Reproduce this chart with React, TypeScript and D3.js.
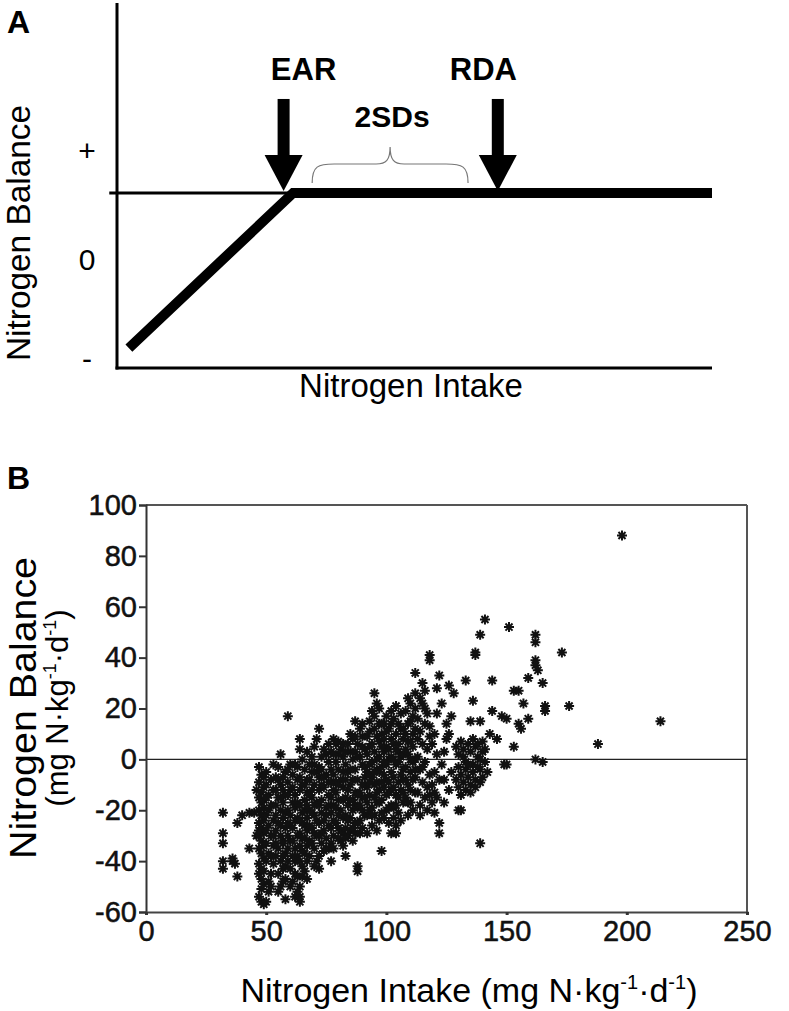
import React, { useEffect, useRef } from 'react';
import * as d3 from 'd3';

// ---- panel A: conceptual curve (arbitrary units) ----
const curveA: [number, number][] = [[2, -0.9], [29.6, 0.667], [100, 0.667]];
const thresholdA: [number, number][] = [[-1.3, 0.667], [29.6, 0.667]];
const balanceTicksA = [
    { label: '+', value: 1.1 },
    { label: '0', value: 0 },
    { label: '-', value: -1 }
];
const markersA = [
    { label: 'EAR', intake: 28 },
    { label: 'RDA', intake: 64 }
];
const spreadA = { label: '2SDs', from: 32.8, to: 59 };

// ---- panel B: nitrogen balance vs intake ----
const intakeTicks = [0, 50, 100, 150, 200, 250];
const balanceTicks = [100, 80, 60, 40, 20, 0, -20, -40, -60];

const points: [number, number][] = [
    // low intakes
    [32, -21], [32, -29], [32, -33], [32, -40], [32, -43], [36, -39], [37, -41], [36, -40], [38, -46], [38, -25],
    [40, -22], [43, -21], [43, -35], [46, -12], [45, -21], [46, -30],
    // ~48
    [47, -3], [48, -6], [47, -9], [49, -11], [48, -13], [47, -15], [48, -17], [49, -19], [47, -20], [48, -22],
    [49, -24], [47, -25], [48, -27], [49, -29], [47, -30], [48, -32], [49, -34], [47, -35], [48, -37], [49, -39],
    [47, -41], [48, -43], [47, -45], [48, -47], [49, -49], [48, -51], [47, -54], [48, -56], [49, -57], [48, -22],
    [47, -28], [49, -16],
    // 50-53
    [50, -10], [51, -14], [52, -18], [50, -22], [51, -26], [52, -30], [50, -33], [51, -37], [53, -41], [52, -45],
    [51, -48], [53, -2], [52, -8], [53, -24], [51, -20], [53, -34],
    [50, -5], [49, -7], [50, -15], [50, -28], [50, -40], [49, -44], [51, -52], [50, -56], [52, -38], [53, -12],
    [52, -50], [53, -30],
    // 54-58
    [56, 2], [55, -3], [54, -7], [56, -10], [57, -12], [55, -15], [54, -18], [56, -20], [57, -23], [55, -25],
    [54, -28], [56, -30], [57, -32], [55, -35], [54, -38], [56, -40], [57, -43], [55, -45], [58, -47], [56, -50],
    [58, -55], [57, -17], [58, -27], [58, -37], [54, -22], [55, -8], [59, 17], [58, -5], [57, -33],
    [54, -12], [57, -7], [58, -14], [58, -21], [56, -26], [54, -33], [57, -38], [58, -42], [55, -52], [57, -48],
    [56, -15],
    // 59-63
    [60, -2], [61, -6], [59, -9], [60, -12], [62, -14], [61, -17], [59, -20], [60, -22], [62, -24], [61, -27],
    [59, -30], [60, -32], [62, -35], [61, -38], [59, -40], [60, -43], [62, -45], [61, -48], [63, -46], [60, -26],
    [62, -19], [59, -35], [63, -8], [62, -2], [61, -11],
    [59, -4], [63, -3], [63, -17], [63, -23], [63, -30], [63, -38], [59, -14], [59, -25], [61, -32], [62, -40],
    [60, -50], [62, -54],
    // 64-67
    [64, 8], [64, 4], [65, 0], [66, -4], [64, -7], [65, -10], [67, -13], [66, -16], [64, -18], [65, -21],
    [67, -23], [66, -26], [64, -29], [65, -31], [67, -34], [66, -37], [64, -40], [65, -42], [66, -44], [64, -50],
    [64, -54], [64, -56], [63, -52], [65, -25], [66, -20], [67, -8], [65, -36],
    [67, 3], [66, -10], [67, -18], [67, -28], [67, -40], [64, -12], [64, -24], [64, -34], [66, -31], [65, -46],
    [67, -47],
    // 68-72
    [72, 12], [71, 8], [70, 5], [69, 1], [70, -2], [71, -5], [68, -8], [70, -10], [72, -12], [69, -15],
    [71, -17], [68, -20], [70, -22], [72, -25], [69, -27], [71, -30], [68, -32], [70, -35], [72, -38], [71, -40],
    [72, -43], [69, -12], [71, -24], [68, -26], [70, -18], [72, -3], [70, -29],
    [68, -2], [69, -5], [72, -7], [68, -14], [72, -18], [69, -21], [72, -30], [68, -38], [70, -42], [69, -33],
    // 73-77
    [74, 4], [75, 2], [76, -1], [73, -4], [75, -6], [77, -9], [74, -11], [76, -14], [73, -16], [75, -19],
    [77, -21], [74, -24], [76, -26], [73, -29], [75, -31], [77, -33], [74, -36], [77, -40], [76, -35], [73, -10],
    [75, -22], [77, -15], [74, -28], [76, 6],
    [73, 1], [77, 3], [77, -4], [74, -7], [76, -9], [73, -21], [77, -27], [75, -35], [73, -33], [76, -18],
    // 78-82
    [78, 8], [79, 6], [80, 7], [81, 4], [82, 1], [79, -1], [80, -4], [78, -6], [81, -8], [82, -11],
    [79, -13], [80, -16], [78, -18], [81, -20], [82, -23], [79, -25], [80, -27], [78, -30], [81, -32], [82, -34],
    [80, -22], [79, -9], [82, -16], [81, -28], [78, -12], [80, 2],
    [78, 2], [82, 6], [82, -5], [78, -24], [80, -10], [82, -29], [79, -19], [80, -31], [78, -35],
    // 83-87
    [83, -38], [84, 6], [85, 3], [86, 0], [83, -2], [84, -5], [86, -8], [85, -10], [87, -13], [83, -15],
    [84, -18], [86, -20], [85, -23], [87, -25], [83, -27], [84, -30], [86, -32], [87, 15], [85, 10], [86, 8],
    [84, -12], [87, -4], [83, -22], [85, -28], [86, -16], [87, 3],
    [83, 3], [87, 9], [85, -4], [87, -18], [83, -8], [84, -24], [87, -29], [85, -16], [86, -27], [83, -31],
    // 88-92
    [88, -44], [88, -42], [89, 12], [90, 9], [88, 6], [91, 4], [89, 1], [90, -2], [92, -5], [88, -8],
    [91, -10], [89, -13], [90, -15], [92, -17], [88, -19], [91, -22], [89, -24], [90, -27], [92, -29], [88, -14],
    [90, -20], [92, 2], [91, -7], [89, -18], [92, -11], [90, 5],
    [88, 1], [90, 14], [92, 9], [91, -3], [88, -25], [92, -22], [89, -29], [91, -15], [90, -10],
    // 93-97
    [93, 15], [95, 26], [96, 22], [94, 19], [95, 17], [97, 14], [93, 11], [96, 9], [94, 6], [95, 3],
    [97, 1], [93, -2], [96, -4], [94, -7], [95, -10], [97, -12], [93, -14], [96, -17], [94, -19], [95, -22],
    [97, -24], [93, -6], [96, -13], [94, -1], [95, 12], [97, 7], [93, -20], [96, -9], [94, -26], [96, -28],
    [93, 5], [97, 20], [95, -5], [97, -17], [93, -9], [96, 0], [95, -15], [97, -5], [94, -22],
    // 98-102
    [98, -36], [102, 19], [100, 17], [99, 14], [101, 12], [98, 10], [102, 8], [100, 5], [99, 3], [101, 0],
    [98, -3], [102, -5], [100, -8], [99, -11], [101, -13], [98, -16], [102, -18], [100, -20], [99, -23], [101, -25],
    [102, -29], [100, -2], [99, 8], [101, -9], [98, -21], [102, -12], [100, 11], [99, -6], [101, 4],
    [98, 5], [102, 14], [98, -9], [101, -19], [100, -14], [99, -1], [98, 14], [102, 1],
    // 103-107
    [104, -29], [103, 16], [105, 14], [106, 12], [104, 10], [107, 8], [103, 6], [105, 3], [106, 1], [104, -2],
    [107, -4], [103, -7], [105, -9], [106, -12], [104, -14], [107, -17], [103, -19], [105, -21], [106, -24], [104, -26],
    [105, -15], [107, 2], [103, -11], [106, 18], [104, 21], [107, -8], [105, 6],
    [103, 0], [107, 12], [104, 4], [106, -6], [107, -13], [103, -23], [105, -1], [104, -18],
    // 108-112
    [112, 34], [112, 26], [110, 22], [108, 19], [111, 17], [109, 14], [112, 12], [108, 10], [110, 7], [111, 5],
    [109, 2], [112, 0], [108, -3], [110, -5], [111, -8], [109, -10], [112, -13], [108, -15], [110, -17], [111, -20],
    [109, -22], [110, -12], [112, -7], [108, 4], [111, -1], [109, 24], [110, 15], [112, 20],
    [109, 7], [111, 10], [108, -8], [112, -4], [110, 0], [109, -17],
    // 113-118
    [116, 20], [118, 41], [118, 39], [114, 24], [115, 22], [117, 18], [113, 16], [116, 14], [114, 11], [118, 9],
    [115, 6], [117, 4], [113, 1], [116, -1], [114, -4], [118, -6], [115, -9], [117, -11], [113, -13], [116, -15],
    [114, -18], [117, -20], [115, -3], [113, 8], [116, 27], [115, 30], [118, -14], [114, -22], [118, 13],
    // 119-127
    [121, 28], [122, 33], [126, 29], [128, 26], [120, -13], [124, -17], [120, -21], [122, -29], [122, -25], [120, 10],
    [119, 6], [121, 2], [123, -2], [120, -5], [122, -8], [119, -10], [125, 8], [124, 3], [127, -5], [126, 10],
    [121, 18], [123, 22], [125, 14], [127, 17], [119, -17], [126, -12], [124, -8], [121, -15],
    // cluster near 135
    [129, 5], [130, 2], [131, 7], [132, 4], [133, -1], [134, 6], [135, 3], [136, -2], [137, 5], [138, 1],
    [139, -4], [140, 3], [141, -1], [142, -5], [130, -3], [131, -6], [132, -9], [133, -4], [134, -7], [135, -10],
    [136, -5], [137, -8], [138, -3], [139, 0], [140, -7], [141, 4], [132, 1], [134, -2], [136, 8], [138, 6],
    [130, -11], [133, -12], [131, -14], [135, -13], [137, -11], [129, -8], [139, -9], [140, 7],
    // high intakes
    [130, -20], [131, -20], [139, -33], [133, 31], [137, 41], [137, 42], [139, 49], [141, 55], [151, 52], [144, 31],
    [136, 23], [135, 15], [139, 15], [144, 19], [143, 10], [146, 8], [149, -2], [150, -2], [153, 5], [148, 17],
    [150, 16], [153, 27], [155, 27], [155, 14], [156, 12], [157, 22], [159, 16], [159, 32], [162, 49], [162, 46],
    [162, 39], [162, 37], [163, 35], [165, 30], [166, 21], [166, 19], [162, 0], [165, -1], [173, 42], [176, 21],
    [188, 6], [198, 88], [214, 15]
];

const FONT = '"Liberation Sans", Arial, Helvetica, sans-serif';

export default function App() {
    const svgRef = useRef<SVGSVGElement>(null);

    const width = 789;
    const height = 1011;

    useEffect(() => {
        const svg = d3.select(svgRef.current);
        svg.selectAll('*').remove();

        // ================= Panel A =================
        const xA = d3.scaleLinear().domain([0, 100]).range([117, 712]);
        const yA = d3.scaleLinear().domain([-1, 1]).range([358, 160]);

        const gA = svg.append('g');

        gA.append('text').attr('x', 7).attr('y', 33).text('A')
            .attr('font-family', FONT).attr('font-weight', 'bold').attr('font-size', 32);

        // axes
        gA.append('line').attr('x1', xA(0)).attr('x2', xA(0)).attr('y1', 3).attr('y2', yA(-1.1) + 1.5)
            .attr('stroke', '#000').attr('stroke-width', 3);
        gA.append('line').attr('x1', xA(0) - 1.5).attr('x2', xA(100)).attr('y1', yA(-1.1)).attr('y2', yA(-1.1))
            .attr('stroke', '#000').attr('stroke-width', 3);

        gA.selectAll('.tickA').data(balanceTicksA).enter().append('text')
            .attr('x', 87).attr('y', d => yA(d.value))
            .attr('text-anchor', 'middle').attr('dominant-baseline', 'central')
            .attr('font-family', FONT).attr('font-size', 30)
            .text(d => d.label);

        const line = d3.line<[number, number]>().x(d => xA(d[0])).y(d => yA(d[1]));

        gA.append('path').attr('d', line(thresholdA)).attr('fill', 'none')
            .attr('stroke', '#000').attr('stroke-width', 3);
        gA.append('path').attr('d', line(curveA)).attr('fill', 'none')
            .attr('stroke', '#000').attr('stroke-width', 10).attr('stroke-linejoin', 'miter');

        // arrows
        markersA.forEach(m => {
            const cx = xA(m.intake);
            const tip = yA(0.667) - 2;
            const headTop = tip - 36;
            const shaftTop = tip - 92;
            gA.append('rect').attr('x', cx - 6).attr('y', shaftTop).attr('width', 12).attr('height', headTop - shaftTop + 1)
                .attr('fill', '#000');
            gA.append('path')
                .attr('d', `M${cx - 19},${headTop}L${cx + 19},${headTop}L${cx},${tip}Z`)
                .attr('fill', '#000');
            gA.append('text').attr('x', cx + 8 * (m.label === 'EAR' ? 2.5 : -1.8)).attr('y', 80)
                .attr('text-anchor', 'middle').attr('font-family', FONT).attr('font-weight', 'bold').attr('font-size', 31)
                .text(m.label);
        });

        // brace for 2SDs
        const bx0 = xA(spreadA.from), bx1 = xA(spreadA.to), bm = (bx0 + bx1) / 2;
        const bBot = 183, bMid = 164, bTop = 147;
        const brace = d3.path();
        brace.moveTo(bx0, bBot);
        brace.bezierCurveTo(bx0, bMid + 2, bx0 + 6, bMid, bx0 + 22, bMid);
        brace.lineTo(bm - 14, bMid);
        brace.bezierCurveTo(bm - 4, bMid, bm, bMid - 4, bm, bTop);
        brace.bezierCurveTo(bm, bMid - 4, bm + 4, bMid, bm + 14, bMid);
        brace.lineTo(bx1 - 22, bMid);
        brace.bezierCurveTo(bx1 - 6, bMid, bx1, bMid + 2, bx1, bBot);
        gA.append('path').attr('d', brace.toString()).attr('fill', 'none')
            .attr('stroke', '#777').attr('stroke-width', 1.2);

        gA.append('text').attr('x', bm + 2).attr('y', 127).attr('text-anchor', 'middle')
            .attr('font-family', FONT).attr('font-weight', 'bold').attr('font-size', 30)
            .text(spreadA.label);

        gA.append('text').attr('transform', `translate(30,${233}) rotate(-90)`)
            .attr('text-anchor', 'middle').attr('font-family', FONT).attr('font-size', 34)
            .attr('textLength', 256).attr('lengthAdjust', 'spacingAndGlyphs')
            .text('Nitrogen Balance');

        gA.append('text').attr('x', 411).attr('y', 397).attr('text-anchor', 'middle')
            .attr('font-family', FONT).attr('font-size', 33)
            .text('Nitrogen Intake');

        // ================= Panel B =================
        const x = d3.scaleLinear().domain([0, 250]).range([146, 747]);
        const y = d3.scaleLinear().domain([-60, 100]).range([912, 505]);

        const gB = svg.append('g');

        gB.append('text').attr('x', 7).attr('y', 489).text('B')
            .attr('font-family', FONT).attr('font-weight', 'bold').attr('font-size', 32);

        // frame
        gB.append('line').attr('x1', x(0)).attr('x2', x(250)).attr('y1', y(100)).attr('y2', y(100))
            .attr('stroke', '#555').attr('stroke-width', 2);
        gB.append('line').attr('x1', x(250)).attr('x2', x(250)).attr('y1', y(100)).attr('y2', y(-60))
            .attr('stroke', '#555').attr('stroke-width', 2);
        gB.append('line').attr('x1', x(0)).attr('x2', x(250)).attr('y1', y(0)).attr('y2', y(0))
            .attr('stroke', '#222').attr('stroke-width', 1.2);

        const yAxis = d3.axisLeft(y).tickValues(balanceTicks).tickSize(7).tickPadding(2).tickFormat(d => `${d}`);
        const yAxisG = gB.append('g').attr('transform', `translate(${x(0)},0)`).call(yAxis);
        yAxisG.select('.domain').attr('stroke', '#333').attr('stroke-width', 2);
        yAxisG.selectAll('.tick line').attr('stroke', '#333').attr('stroke-width', 2);
        yAxisG.selectAll('.tick text').attr('font-family', FONT).attr('font-size', 29).attr('fill', '#111')
            .attr('stroke', '#111').attr('stroke-width', 0.5);

        const xAxis = d3.axisBottom(x).tickValues(intakeTicks).tickSize(3).tickPadding(5).tickFormat(d => `${d}`);
        const xAxisG = gB.append('g').attr('transform', `translate(0,${y(-60)})`).call(xAxis);
        xAxisG.select('.domain').attr('stroke', '#444').attr('stroke-width', 2);
        xAxisG.selectAll('.tick line').attr('stroke', '#333').attr('stroke-width', 3);
        xAxisG.selectAll('.tick text').attr('font-family', FONT).attr('font-size', 29).attr('fill', '#111')
            .attr('stroke', '#111').attr('stroke-width', 0.5);

        // asterisk markers
        const r = 5;
        const d45 = r * 0.707;
        const star = `M${-r},0L${r},0M0,${-r}L0,${r}M${-d45},${-d45}L${d45},${d45}M${-d45},${d45}L${d45},${-d45}`;
        gB.append('g').selectAll('path').data(points).enter().append('path')
            .attr('transform', d => `translate(${x(d[0])},${y(d[1])})`)
            .attr('d', star)
            .attr('fill', 'none').attr('stroke', '#111').attr('stroke-width', 2);

        // axis titles
        const yt = gB.append('g').attr('transform', `translate(0,${708}) rotate(-90)`);
        yt.append('text').attr('x', 0).attr('y', 36).attr('text-anchor', 'middle')
            .attr('font-family', FONT).attr('font-size', 36)
            .attr('textLength', 302).attr('lengthAdjust', 'spacingAndGlyphs')
            .text('Nitrogen Balance');
        const yt2 = yt.append('text').attr('x', 0).attr('y', 68).attr('text-anchor', 'middle')
            .attr('font-family', FONT).attr('font-size', 31);
        yt2.append('tspan').text('(mg N·kg');
        yt2.append('tspan').attr('font-size', 18).attr('dy', -12).text('-1');
        yt2.append('tspan').attr('dy', 12).text('·d');
        yt2.append('tspan').attr('font-size', 18).attr('dy', -12).text('-1');
        yt2.append('tspan').attr('dy', 12).text(')');

        const xt = gB.append('text').attr('x', 469).attr('y', 1002).attr('text-anchor', 'middle')
            .attr('font-family', FONT).attr('font-size', 34);
        xt.append('tspan').text('Nitrogen Intake (mg N·kg');
        xt.append('tspan').attr('font-size', 20).attr('dy', -13).text('-1');
        xt.append('tspan').attr('dy', 13).text('·d');
        xt.append('tspan').attr('font-size', 20).attr('dy', -13).text('-1');
        xt.append('tspan').attr('dy', 13).text(')');
    });

    return (
        <svg ref={svgRef} width={width} height={height}
            style={{ position: 'absolute', left: 0, top: 0, background: '#fff' }}></svg>
    );
}
